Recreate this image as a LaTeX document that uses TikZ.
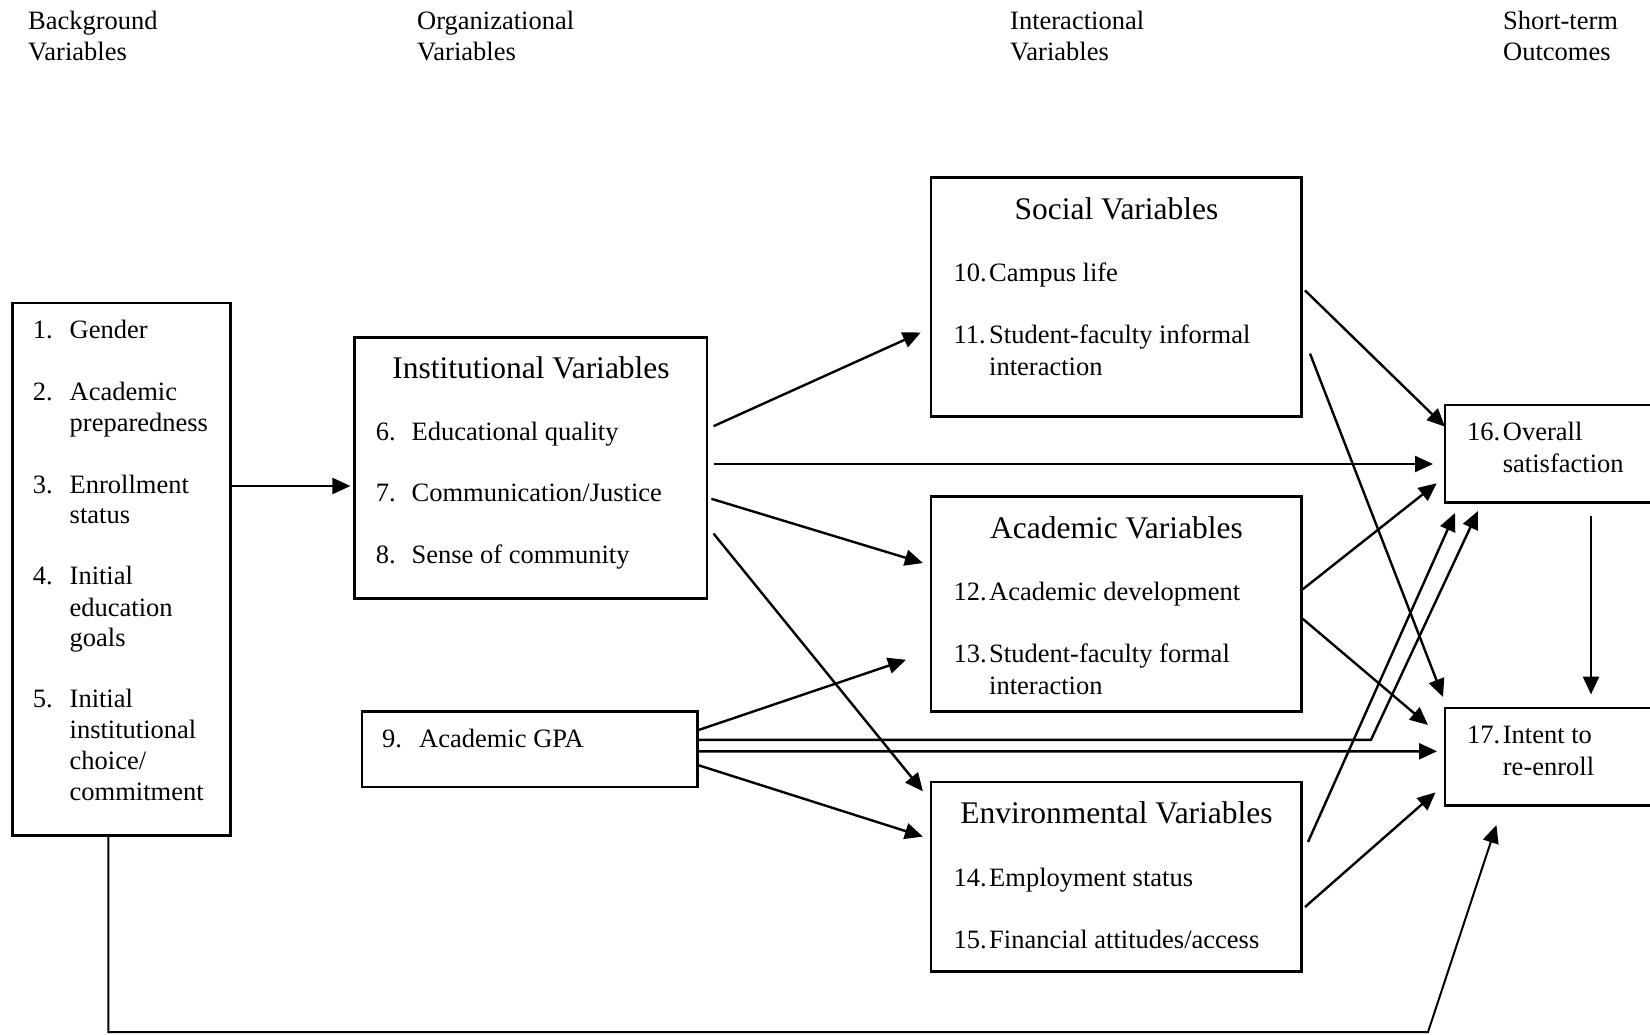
\documentclass[tikz,border=0pt]{standalone}
\usepackage{fontspec}
\setmainfont{Liberation Serif}
\usetikzlibrary{arrows.meta}
\begin{document}
\begin{tikzpicture}[x=1pt,y=-1pt,
  box/.style={draw, line width=2.9pt, anchor=north west, inner sep=0pt, outer sep=0pt},
  hdr/.style={anchor=base west, inner sep=0pt, font=\fontsize{26.5}{30}\selectfont},
  itm/.style={anchor=base west, inner sep=0pt, font=\fontsize{26.5}{30}\selectfont},
  ttl/.style={anchor=base, inner sep=0pt, font=\fontsize{31.5}{36}\selectfont},
  tip/.style={-{Triangle[length=18pt,width=16pt]}},
  arr/.style={line width=2.4pt, tip},
  lnk/.style={line width=2pt, tip},
]
\useasboundingbox (0,0) rectangle (1650,1035);
\clip (0,0) rectangle (1650,1035);

% column headings
\node[hdr] (hA1) at (28,30) {Background};
\node[hdr] (hA2) at (28,60.5) {Variables};
\node[hdr] (hB1) at (417,30) {Organizational};
\node[hdr] (hB2) at (417,60.5) {Variables};
\node[hdr] (hC1) at (1010,30) {Interactional};
\node[hdr] (hC2) at (1010,60.5) {Variables};
\node[hdr] (hD1) at (1503,30) {Short-term};
\node[hdr] (hD2) at (1503,60.5) {Outcomes};

% boxes
\node[box, minimum width=217.9pt, minimum height=532.5pt] (bg)   at (12.6,303) {};
\node[box, minimum width=352.4pt, minimum height=261pt]   (inst) at (354.6,337.8) {};
\node[box, minimum width=335.7pt, minimum height=75.6pt]  (gpa)  at (362,711.4) {};
\node[box, minimum width=370.7pt, minimum height=238.9pt] (soc)  at (931,177.8) {};
\node[box, minimum width=370.7pt, minimum height=214.7pt] (acad) at (931,496.7) {};
\node[box, minimum width=370.7pt, minimum height=189.3pt] (env)  at (931,782) {};
\node[box, minimum width=240pt,   minimum height=97.5pt]  (osat) at (1445,405) {};
\node[box, minimum width=240pt,   minimum height=97.5pt]  (oint) at (1445,708) {};

% background variables
\node[itm] (b1)  at (32.6,338)   {\makebox[36.9pt][l]{1.}Gender};
\node[itm] (b2)  at (32.6,400.5) {\makebox[36.9pt][l]{2.}Academic};
\node[itm] (b2b) at (69.5,431)   {preparedness};
\node[itm] (b3)  at (32.6,493)   {\makebox[36.9pt][l]{3.}Enrollment};
\node[itm] (b3b) at (69.5,523.5) {status};
\node[itm] (b4)  at (32.6,584.6) {\makebox[36.9pt][l]{4.}Initial};
\node[itm] (b4b) at (69.5,616)   {education};
\node[itm] (b4c) at (69.5,646.7) {goals};
\node[itm] (b5)  at (32.6,707.7) {\makebox[36.9pt][l]{5.}Initial};
\node[itm] (b5b) at (69.5,738)   {institutional};
\node[itm] (b5c) at (69.5,769)   {choice/};
\node[itm] (b5d) at (69.5,800.3) {commitment};

% institutional variables
\node[ttl] (instT) at (531,378) {Institutional Variables};
\node[itm] (i6) at (375.7,440.4) {\makebox[35.8pt][l]{6.}Educational quality};
\node[itm] (i7) at (375.7,501.5) {\makebox[35.8pt][l]{7.}Communication/Justice};
\node[itm] (i8) at (375.7,563.6) {\makebox[35.8pt][l]{8.}Sense of community};

% GPA
\node[itm] (g9) at (382,747.7) {\makebox[37pt][l]{9.}Academic GPA};

% social variables
\node[ttl] (socT) at (1116.5,219.4) {Social Variables};
\node[itm] (s10)  at (953.4,281.5) {\makebox[35.6pt][l]{10.}Campus life};
\node[itm] (s11)  at (953.4,343.6) {\makebox[35.6pt][l]{11.}Student-faculty informal};
\node[itm] (s11b) at (989,375.2)   {interaction};

% academic variables
\node[ttl] (acaT) at (1116.5,538.2) {Academic Variables};
\node[itm] (a12)  at (953.4,600.4) {\makebox[35.6pt][l]{12.}Academic development};
\node[itm] (a13)  at (953.4,662.5) {\makebox[35.6pt][l]{13.}Student-faculty formal};
\node[itm] (a13b) at (989,694)     {interaction};

% environmental variables
\node[ttl] (envT) at (1116.5,823.4) {Environmental Variables};
\node[itm] (e14)  at (953.4,886.6) {\makebox[35.6pt][l]{14.}Employment status};
\node[itm] (e15)  at (953.4,948.7) {\makebox[35.6pt][l]{15.}Financial attitudes/access};

% outcomes
\node[itm] (o16)  at (1467,440.4) {\makebox[35.7pt][l]{16.}Overall};
\node[itm] (o16b) at (1502.7,472) {satisfaction};
\node[itm] (o17)  at (1467,743.5) {\makebox[35.7pt][l]{17.}Intent to};
\node[itm] (o17b) at (1502.7,775) {re-enroll};

% connectors
\draw[arr] ([shift={(0,183)}]bg.north east) -- ([shift={(-4.2,148.2)}]inst.north west);

\draw[arr] ([shift={(6.5,88.4)}]inst.north east)  -- ([shift={(-10.2,154.7)}]soc.north west);
\draw[arr] ([shift={(6.5,126.2)}]inst.north east) -- ([shift={(-12,59)}]osat.north west);
\draw[arr] ([shift={(4.4,161)}]inst.north east)   -- ([shift={(-8.1,66.3)}]acad.north west);
\draw[arr] ([shift={(6.5,195.7)}]inst.north east) -- ([shift={(-8.1,9.3)}]env.north west);

\draw[arr] ([shift={(0,18.9)}]gpa.north east) -- ([shift={(-25,163.1)}]acad.north west);
\coordinate (gbend) at ([shift={(673.3,28.4)}]gpa.north east);
\draw[arr] ([shift={(0,28.4)}]gpa.north east) -- (gbend) -- ([shift={(33,8.5)}]osat.south west);
\draw[arr] ([shift={(0,39.9)}]gpa.north east) -- ([shift={(-8,43.3)}]oint.north west);
\draw[arr] ([shift={(0,53.6)}]gpa.north east) -- ([shift={(-8.1,54.6)}]env.north west);

\draw[arr] ([shift={(3.3,112.6)}]soc.north east) -- ([shift={(0,21.7)}]osat.north west);
\draw[arr] ([shift={(8.3,175.8)}]soc.north east) -- ([shift={(-2,-11)}]oint.north west);
\draw[arr] ([shift={(1,92.6)}]acad.north east)   -- ([shift={(-8.3,78.3)}]osat.north west);
\draw[arr] ([shift={(1,122.1)}]acad.north east)  -- ([shift={(-17,17)}]oint.north west);
\draw[arr] ([shift={(6.3,60)}]env.north east)    -- ([shift={(10,10.5)}]osat.south west);
\draw[arr] ([shift={(3.3,125)}]env.north east)   -- ([shift={(-9.5,84.4)}]oint.north west);

\draw[arr] ([shift={(146,13.1)}]osat.south west) -- ([shift={(146,-13.5)}]oint.north west);

\coordinate (bl) at ([shift={(95.8,196.5)}]bg.south west);
\coordinate (br) at (1428,1032);
\draw[lnk] ([shift={(95.8,0)}]bg.south west) -- (bl) -- (br) -- ([shift={(51.4,19.5)}]oint.south west);
\end{tikzpicture}
\end{document}
